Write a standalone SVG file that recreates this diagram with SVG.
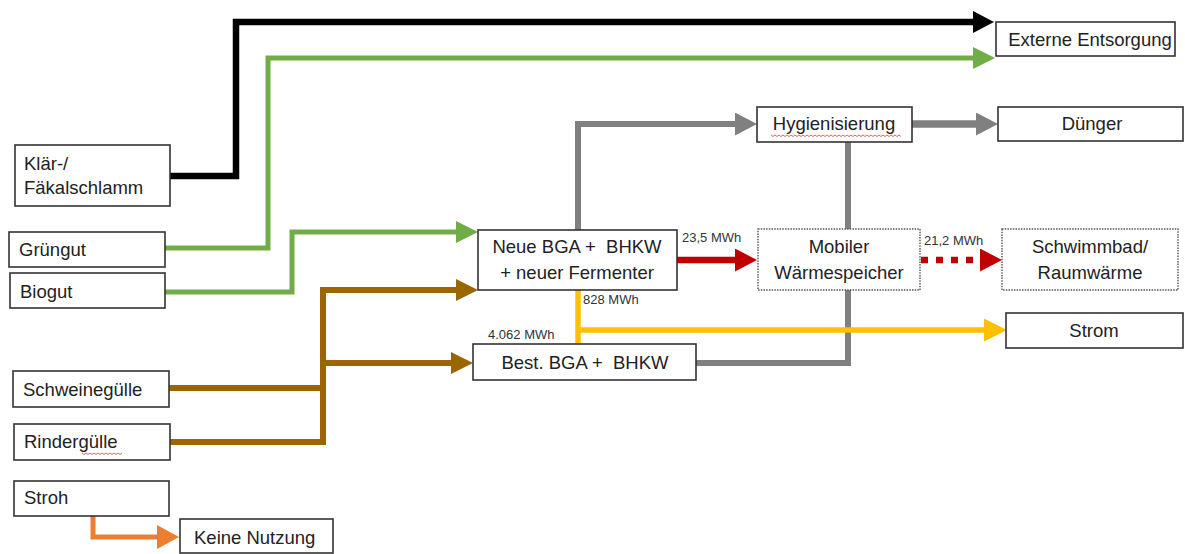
<svg xmlns="http://www.w3.org/2000/svg" width="1185" height="554" viewBox="0 0 1185 554">
<style>
  .box{fill:#fff;stroke:#333;stroke-width:1.6}
  .dot{fill:#fff;stroke:#555;stroke-width:1.4;stroke-dasharray:1.5 1.2}
  .t{font-family:"Liberation Sans",Arial,sans-serif;font-size:18.5px;fill:#222}
  .c{text-anchor:middle}
  .lbl{font-family:"Liberation Sans",Arial,sans-serif;font-size:13px;fill:#333}
  .ln{fill:none;stroke-linejoin:miter;stroke-linecap:butt}
  .wavy{fill:none;stroke:#e03a3a;stroke-width:0.8}
</style>
<defs>
  <marker id="mBlack" markerUnits="userSpaceOnUse" markerWidth="22" markerHeight="22" refX="0" refY="11" orient="auto"><path d="M0,0 L21,11 L0,22 z" fill="#000"/></marker>
  <marker id="mGreen" markerUnits="userSpaceOnUse" markerWidth="22" markerHeight="22" refX="0" refY="11" orient="auto"><path d="M0,0 L22,11 L0,22 z" fill="#70AD47"/></marker>
  <marker id="mBrown" markerUnits="userSpaceOnUse" markerWidth="23" markerHeight="22" refX="0" refY="11" orient="auto"><path d="M0,0 L22,11 L0,22 z" fill="#996600"/></marker>
  <marker id="mGray" markerUnits="userSpaceOnUse" markerWidth="23" markerHeight="23" refX="0" refY="11.5" orient="auto"><path d="M0,0 L22,11.5 L0,23 z" fill="#808080"/></marker>
  <marker id="mRed" markerUnits="userSpaceOnUse" markerWidth="23" markerHeight="23" refX="0" refY="11.5" orient="auto"><path d="M0,0 L22,11.5 L0,23 z" fill="#C00000"/></marker>
  <marker id="mYellow" markerUnits="userSpaceOnUse" markerWidth="24" markerHeight="23" refX="0" refY="11.5" orient="auto"><path d="M0,0 L23,11.5 L0,23 z" fill="#FFC000"/></marker>
  <marker id="mOrange" markerUnits="userSpaceOnUse" markerWidth="23" markerHeight="24" refX="0" refY="12" orient="auto"><path d="M0,0 L22,12 L0,24 z" fill="#ED7D31"/></marker>
</defs>
<rect width="1185" height="554" fill="#fff"/>

<g id="connectors">
  <path class="ln" d="M170,176 H236 V22 H973" stroke="#000" stroke-width="6.5" marker-end="url(#mBlack)"/>
  <path class="ln" d="M165,248 H268 V58 H973" stroke="#70AD47" stroke-width="5" marker-end="url(#mGreen)"/>
  <path class="ln" d="M165,292 H292 V232 H456" stroke="#70AD47" stroke-width="5" marker-end="url(#mGreen)"/>
  <path class="ln" d="M170,442 H323 V290 H456" stroke="#996600" stroke-width="6" marker-end="url(#mBrown)"/>
  <path class="ln" d="M169,388 H323" stroke="#996600" stroke-width="6"/>
  <path class="ln" d="M323,363 H451" stroke="#996600" stroke-width="6" marker-end="url(#mBrown)"/>
  <path class="ln" d="M578,230 V124 H735" stroke="#808080" stroke-width="6" marker-end="url(#mGray)"/>
  <path class="ln" d="M912,124 H976" stroke="#808080" stroke-width="7.5" marker-end="url(#mGray)"/>
  <path class="ln" d="M696,363 H848 V142" stroke="#808080" stroke-width="6"/>
  <path class="ln" d="M578,290 V344" stroke="#FFC000" stroke-width="5.5"/>
  <path class="ln" d="M578,330 H984" stroke="#FFC000" stroke-width="5.5" marker-end="url(#mYellow)"/>
  <path class="ln" d="M677,260 H735" stroke="#C00000" stroke-width="6.5" marker-end="url(#mRed)"/>
  <path class="ln" d="M921,260 H980" stroke="#C00000" stroke-width="6.5" stroke-dasharray="7 8" marker-end="url(#mRed)"/>
  <path class="ln" d="M93,516 V537 H157" stroke="#ED7D31" stroke-width="5" marker-end="url(#mOrange)"/>
  <text class="lbl" x="682" y="242">23,5 MWh</text>
  <text class="lbl" x="924" y="245">21,2 MWh</text>
  <text class="lbl" x="583" y="304">828 MWh</text>
  <text class="lbl" x="488" y="339">4.062 MWh</text>
</g>

<g id="klaer"><rect class="box" x="15" y="145" width="155" height="61"/><text class="t" x="24" y="170">Klär-/</text><text class="t" x="24" y="194">Fäkalschlamm</text></g>
<g id="gruengut"><rect class="box" x="9" y="232" width="156" height="35"/><text class="t" x="19" y="256">Grüngut</text></g>
<g id="biogut"><rect class="box" x="10" y="273" width="155" height="35"/><text class="t" x="20" y="298">Biogut</text></g>
<g id="schwein"><rect class="box" x="13" y="371" width="156" height="36"/><text class="t" x="23" y="396">Schweinegülle</text></g>
<g id="rinder"><rect class="box" x="14" y="424" width="156" height="36"/><text class="t" x="24" y="448">Rindergülle</text><path class="wavy" d="M82,453 l2,1.5 l2,-1.5 l2,1.5 l2,-1.5 l2,1.5 l2,-1.5 l2,1.5 l2,-1.5 l2,1.5 l2,-1.5 l2,1.5 l2,-1.5 l2,1.5 l2,-1.5 l2,1.5 l2,-1.5 l2,1.5 l2,-1.5 l2,1.5 l2,-1.5"/></g>
<g id="stroh"><rect class="box" x="14" y="481" width="155" height="35"/><text class="t" x="24" y="504">Stroh</text></g>
<g id="keine"><rect class="box" x="180" y="519" width="153" height="34"/><text class="t" x="194" y="544">Keine Nutzung</text></g>
<g id="neue"><rect class="box" x="478" y="230" width="199" height="60"/><text class="t c" x="577" y="253" xml:space="preserve">Neue BGA +  BHKW</text><text class="t c" x="577" y="279">+ neuer Fermenter</text></g>
<g id="best"><rect class="box" x="473" y="344" width="223" height="36"/><text class="t c" x="585" y="369" xml:space="preserve">Best. BGA +  BHKW</text></g>
<g id="hyg"><rect class="box" x="757" y="107" width="155" height="35"/><text class="t c" x="834" y="130">Hygienisierung</text><path class="wavy" d="M771,135 l2,1.5 l2,-1.5 l2,1.5 l2,-1.5 l2,1.5 l2,-1.5 l2,1.5 l2,-1.5 l2,1.5 l2,-1.5 l2,1.5 l2,-1.5 l2,1.5 l2,-1.5 l2,1.5 l2,-1.5 l2,1.5 l2,-1.5 l2,1.5 l2,-1.5 l2,1.5 l2,-1.5 l2,1.5 l2,-1.5 l2,1.5 l2,-1.5 l2,1.5 l2,-1.5 l2,1.5 l2,-1.5 l2,1.5 l2,-1.5 l2,1.5 l2,-1.5 l2,1.5 l2,-1.5 l2,1.5 l2,-1.5 l2,1.5 l2,-1.5 l2,1.5 l2,-1.5 l2,1.5 l2,-1.5 l2,1.5 l2,-1.5 l2,1.5 l2,-1.5 l2,1.5 l2,-1.5 l2,1.5 l2,-1.5 l2,1.5 l2,-1.5 l2,1.5 l2,-1.5 l2,1.5 l2,-1.5 l2,1.5 l2,-1.5 l2,1.5 l2,-1.5 l2,1.5 l2,-1.5 l2,1.5"/></g>
<g id="duenger"><rect class="box" x="998" y="107" width="185" height="34"/><text class="t c" x="1092" y="130">Dünger</text></g>
<g id="extern"><rect class="box" x="996" y="22" width="179" height="34"/><text class="t c" x="1090" y="46">Externe Entsorgung</text></g>
<g id="mobiler"><rect class="dot" x="758" y="229" width="162" height="61"/><text class="t c" x="839" y="253">Mobiler</text><text class="t c" x="839" y="279">Wärmespeicher</text></g>
<g id="schwimm"><rect class="dot" x="1002" y="229" width="176" height="61"/><text class="t c" x="1090" y="253">Schwimmbad/</text><text class="t c" x="1090" y="279">Raumwärme</text></g>
<g id="strom"><rect class="box" x="1006" y="313" width="177" height="35"/><text class="t c" x="1094" y="337">Strom</text></g>
</svg>
